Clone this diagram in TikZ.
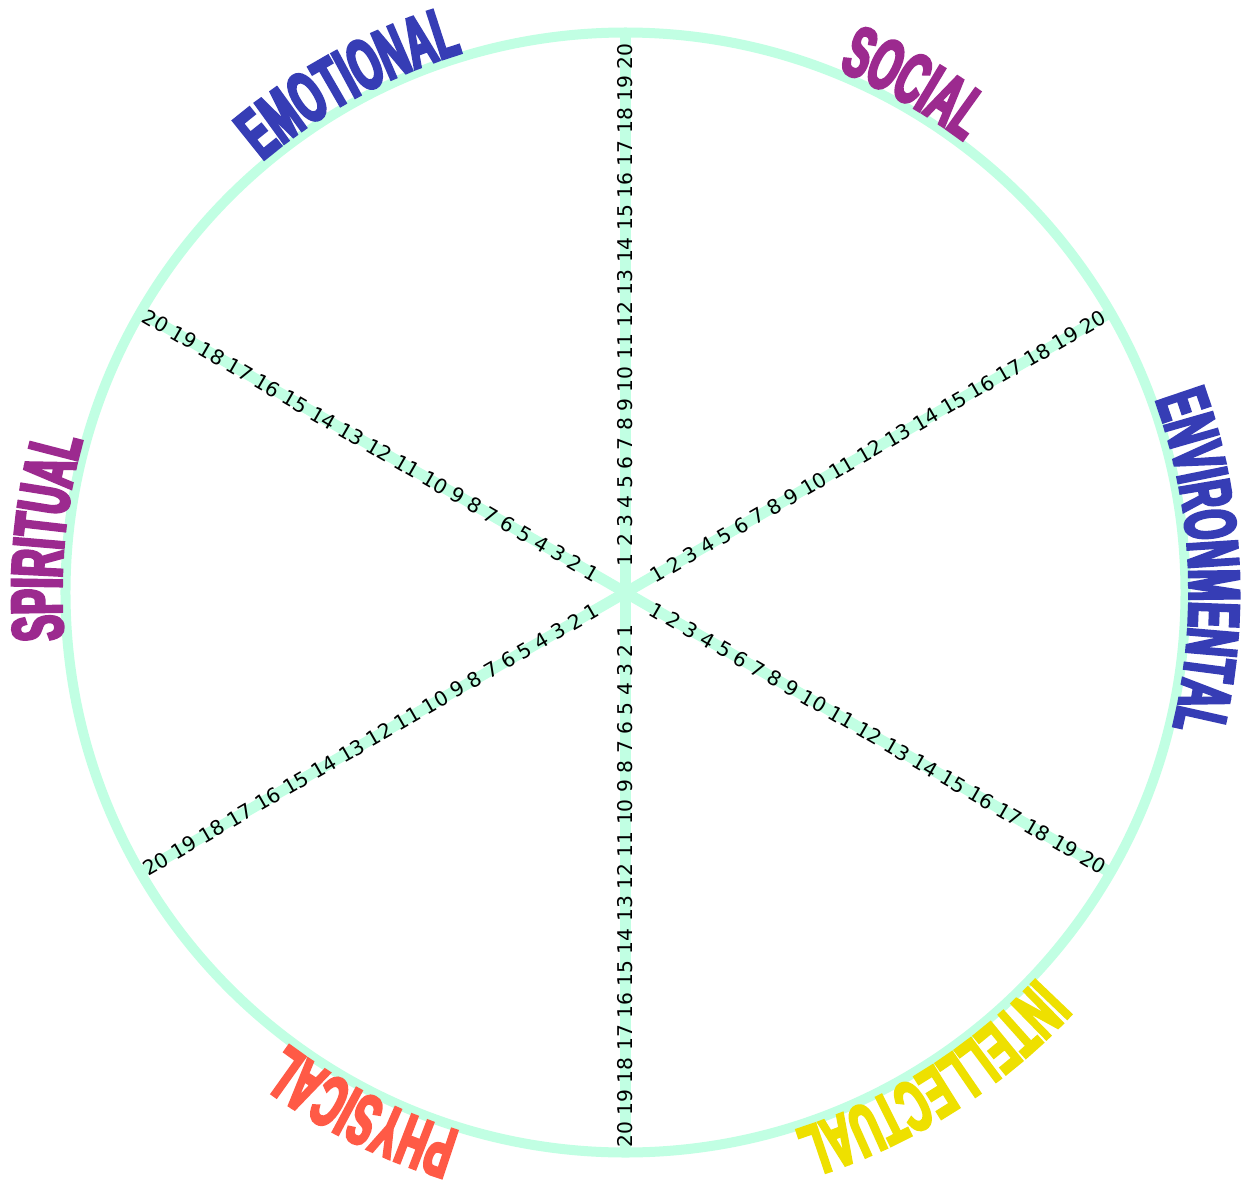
\documentclass[tikz,border=0pt]{standalone}
\usepackage{fontspec}
\usetikzlibrary{decorations.text}
\newfontfamily\numfont{DejaVu Sans}
\newfontfamily\labfont{Liberation Sans Bold}[FakeStretch=0.53,FakeBold=4]
\newcommand\labsize{\labfont\fontsize{72}{72}\selectfont}
\definecolor{mint}{HTML}{C1FFE3}
\definecolor{cblue}{HTML}{363DB5}
\definecolor{cpurple}{HTML}{9C2A8F}
\definecolor{ccoral}{HTML}{FF5A46}
\definecolor{cyellow}{HTML}{EEE000}
\begin{document}
\begin{tikzpicture}[x=1pt,y=1pt,
  spoke/.style={draw=mint,line width=11pt},
  rim/.style={draw=mint,line width=10pt},
  numtext/.style={font=\numfont\fontsize{20.3}{24}\selectfont, inner sep=0pt, text=black},
  lab/.style n args={2}{decorate, decoration={text along path, text={|\labsize|#1}, text align=center, text color=#2}}
]
\fill[white] (-625.5,-591.5) rectangle (620.5,592.5);
\useasboundingbox (-625.5,-591.5) rectangle (620.5,592.5);
\coordinate (c) at (0,0);
\foreach \a in {90,30,-30,-90,-150,150} {
  \coordinate (e\a) at (\a:560);
  \draw[spoke] (c) -- (e\a);
}
\draw[rim] (c) circle[radius=560];
% numbers
\node[numtext, rotate=90, anchor=west] (n90) at (90:26) {1 2 3 4 5 6 7 8 9 10 11 12 13 14 15 16 17 18 19 20};
\node[numtext, rotate=30, anchor=west] (n30) at (30:30) {1 2 3 4 5 6 7 8 9 10 11 12 13 14 15 16 17 18 19 20};
\node[numtext, rotate=-30, anchor=west] (nm30) at (-30:30) {1 2 3 4 5 6 7 8 9 10 11 12 13 14 15 16 17 18 19 20};
\node[numtext, rotate=90, anchor=east] (nm90) at (-90:32) {20 19 18 17 16 15 14 13 12 11 10 9 8 7 6 5 4 3 2 1};
\node[numtext, rotate=30, anchor=east] (nm150) at (-150:32) {20 19 18 17 16 15 14 13 12 11 10 9 8 7 6 5 4 3 2 1};
\node[numtext, rotate=-30, anchor=east] (n150) at (150:32) {20 19 18 17 16 15 14 13 12 11 10 9 8 7 6 5 4 3 2 1};
% labels
\path[lab={EMOTIONAL}{cblue}] (143.45:564) arc[start angle=143.45, end angle=93.45, radius=564];
\path[lab={SOCIAL}{cpurple}] (85.5:564) arc[start angle=85.5, end angle=35.5, radius=564];
\path[lab={ENVIRONMENTAL}{cblue}] (33.1:564) arc[start angle=33.1, end angle=-26.9, radius=564];
\path[lab={SPIRITUAL}{cpurple}] (199.55:564) arc[start angle=199.55, end angle=149.55, radius=564];
\path[lab={PHYSICAL}{ccoral}] (268.1:564) arc[start angle=268.1, end angle=218.1, radius=564];
\path[lab={INTELLECTUAL}{cyellow}] (327.2:564) arc[start angle=327.2, end angle=277.2, radius=564];
\end{tikzpicture}
\end{document}
